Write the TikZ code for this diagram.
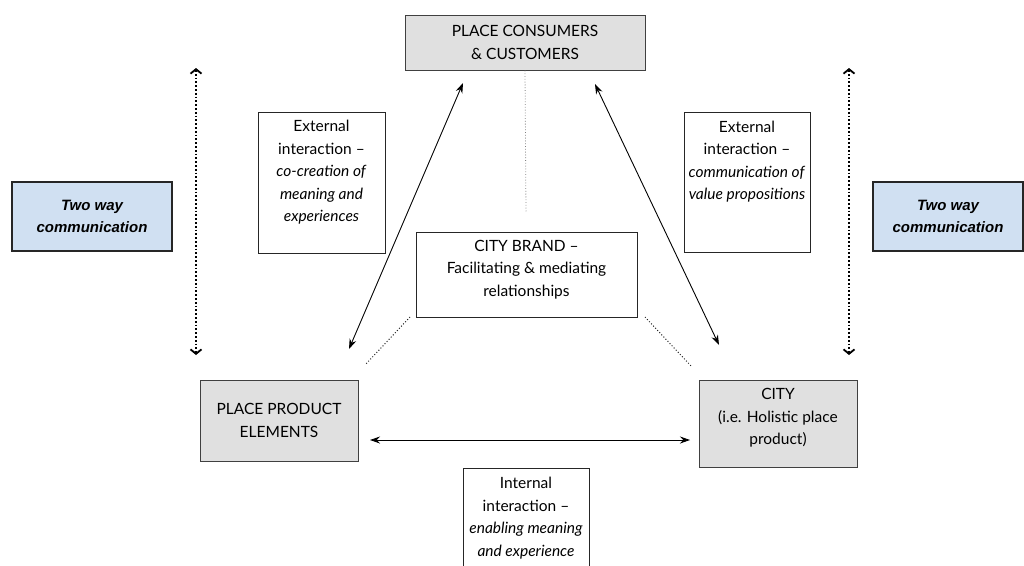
\documentclass[tikz,border=0pt]{standalone}
\usepackage{fontspec}
\setmainfont{Lato}
\newfontfamily\arialf{Liberation Sans}
\usetikzlibrary{arrows.meta}
\definecolor{blueF}{HTML}{D0E0F2}
\definecolor{grayF}{HTML}{E0E0E0}
\begin{document}
\begin{tikzpicture}[x=1pt,y=-1pt,
  every node/.style={font=\fontsize{15.5}{22.5}\selectfont, align=center, inner sep=0pt},
  graybox/.style={draw=black!75, fill=grayF, line width=1pt},
  bluebox/.style={draw=black!85, fill=blueF, line width=1.2pt, font=\arialf\bfseries\itshape\fontsize{15}{22}\selectfont},
  whitebox/.style={draw=black!85, line width=0.8pt},
  twoway/.style={dotted, line width=1.8pt, {Straight Barb[length=4.5pt,width=11pt]}-{Straight Barb[length=4.5pt,width=11pt]}},
  link/.style={line width=0.9pt, {Stealth[length=10pt,width=7pt]}-{Stealth[length=10pt,width=7pt]}},
  brandlink/.style={dotted, line width=1pt, black!85},
  ]
\useasboundingbox (0,0) rectangle (1024,565);

% main nodes
\node[graybox, minimum width=240pt, minimum height=55pt] (cons) at (525,42.5) {PLACE CONSUMERS\\\& CUSTOMERS};
\node[graybox, minimum width=158pt, minimum height=81pt] (ppe) at (279,420.5) {PLACE PRODUCT\\ELEMENTS};
\node[graybox, minimum width=158pt, minimum height=87pt] (city) at (778,423.5) {};
\node (citytxt) at (778,418) {CITY\\(i.e. Holistic place\\product)};
\node[whitebox, minimum width=221pt, minimum height=85pt] (brand) at (526.5,274.5) {};
\node (brandtxt) at (526.5,269.5) {CITY BRAND --\\Facilitating \& mediating\\relationships};

% two way boxes
\node[bluebox, minimum width=160pt, minimum height=69pt] (twl) at (92,216.5) {Two way\\communication};
\node[bluebox, minimum width=150pt, minimum height=69pt] (twr) at (948,216.5) {Two way\\communication};

% external boxes
\node[whitebox, minimum width=127pt, minimum height=141pt] (extl) at (321.5,182.5) {};
\node (extltxt) at (321.5,172.5) {External\\interaction --\\\textit{co-creation of}\\\textit{meaning and}\\\textit{experiences}};
\node[whitebox, minimum width=126pt, minimum height=140pt] (extr) at (747,182) {};
\node (extrtxt) at (747,161.5) {External\\interaction --\\\textit{communication of}\\\textit{value propositions}};

% internal box
\node[whitebox, minimum width=126pt, minimum height=132pt] (intl) at (526,534) {};
\node (intltxt) at (526,518) {Internal\\interaction --\\\textit{enabling meaning}\\\textit{and experience}};

% connector end points
\coordinate (twlT) at (196,68);
\coordinate (twlB) at (196,355);
\coordinate (twrT) at (849,68);
\coordinate (twrB) at (849,355);
\coordinate (consL) at (463,83);
\coordinate (ppeT) at (349,349);
\coordinate (consR) at (595,84);
\coordinate (cityT) at (719,345);
\coordinate (ppeR) at (370,440);
\coordinate (cityL) at (690,440);
\coordinate (consD) at (526,213);
\coordinate (brandL) at (410,317);
\coordinate (brandLe) at (365,365);
\coordinate (brandR) at (645,317);
\coordinate (brandRe) at (692,367);

% connectors
\draw[twoway] (twlT) -- (twlB);
\draw[twoway] (twrT) -- (twrB);
\draw[link] (consL) -- (ppeT);
\draw[link] (consR) -- (cityT);
\draw[link] (ppeR) -- (cityL);
\draw[dotted, gray, line width=0.8pt] (cons.south) -- (consD);
\draw[brandlink] (brandL) -- (brandLe);
\draw[brandlink] (brandR) -- (brandRe);
\end{tikzpicture}
\end{document}
